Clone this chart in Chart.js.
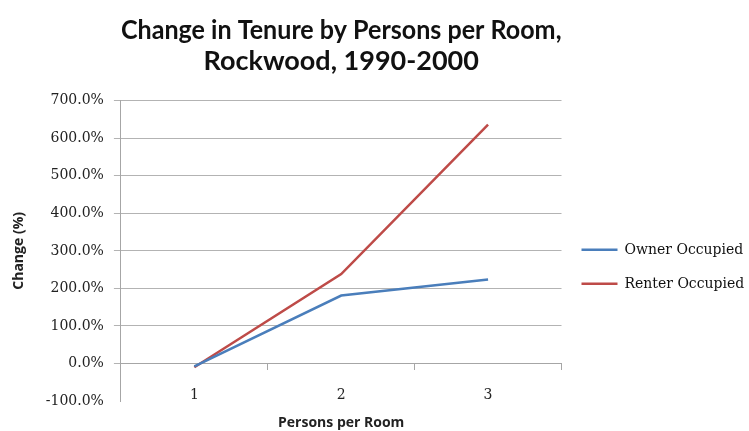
<!DOCTYPE html>
<html>
<head>
 <title>Change in Tenure by Persons per Room</title>
 <script src="https://cdn.jsdelivr.net/npm/chart.js"></script>
 <style>
  body { margin: 0; background: #fff; }
  #chart-container { width: 749px; height: 431px; }
 </style>
</head>
<body>
 <div id="chart-container">
  <canvas id="tenureChart"></canvas>
 </div>

 <script>
  // Data
  const personsPerRoom = ['1', '2', '3'];
  const ownerOccupied = [-8, 181, 224];
  const renterOccupied = [-10, 238, 636];
  const yTicks = [-100, 0, 100, 200, 300, 400, 500, 600, 700];

  const serif = '"DejaVu Serif", "Liberation Serif", serif';
  const sans = '"Open Sans", Lato, sans-serif';

  const ctx = document.getElementById('tenureChart').getContext('2d');
  const chart = new Chart(ctx, {
   type: 'line',
   data: {
    labels: personsPerRoom,
    datasets: [{
     label: 'Owner Occupied',
     data: ownerOccupied,
     borderColor: '#4a7ebb',
     borderWidth: 2.5,
     pointRadius: 0,
     tension: 0,
     fill: false
    }, {
     label: 'Renter Occupied',
     data: renterOccupied,
     borderColor: '#be4b48',
     borderWidth: 2.5,
     pointRadius: 0,
     tension: 0,
     fill: false
    }]
   },
   options: {
    responsive: true,
    maintainAspectRatio: false,
    animation: false,
    layout: { padding: { left: 11, right: 4, top: 0, bottom: 30 } },
    plugins: {
     title: {
      display: true,
      fullSize: false,
      text: ['Change in Tenure by Persons per Room,', 'Rockwood, 1990-2000'],
      color: '#111',
      font: { family: 'Lato, sans-serif', size: 27, weight: 'bold', lineHeight: 1.18 },
      padding: { top: 14, bottom: 23 }
     },
     legend: {
      position: 'right',
      fullSize: false,
      title: { display: true, text: ' ', font: { size: 10 }, padding: 10 },
      labels: {
       usePointStyle: true,
       pointStyle: 'line',
       pointStyleWidth: 36,
       padding: 20,
       color: '#111',
       font: { family: serif, size: 14 }
      }
     },
     tooltip: { enabled: false }
    },
    scales: {
     x: {
      position: { y: 0 },
      offset: true,
      grid: {
       offset: true,
       drawOnChartArea: false,
       drawTicks: true,
       tickLength: 6,
       color: '#a6a6a6'
      },
      border: { color: '#a6a6a6', width: 1 },
      ticks: {
       padding: 17,
       color: '#222',
       font: { family: serif, size: 14 }
      },
      title: {
       display: true,
       text: 'Persons per Room',
       color: '#222',
       font: { family: sans, size: 14, weight: 'bold' },
       padding: { top: -6, bottom: 0 }
      }
     },
     y: {
      min: -100,
      max: 700,
      afterBuildTicks: function(scale) {
       scale.ticks = yTicks.map(v => ({ value: v }));
      },
      grid: {
       color: c => (c.tick && c.tick.value === -100) ? 'rgba(0,0,0,0)' : '#b3b3b3',
       tickLength: 7,
       lineWidth: 1
      },
      border: { color: '#a6a6a6', width: 1 },
      ticks: {
       padding: 10,
       color: '#222',
       font: { family: serif, size: 14 },
       callback: v => v.toFixed(1) + '%'
      },
      title: {
       display: true,
       text: 'Change (%)',
       color: '#222',
       font: { family: sans, size: 14, weight: 'bold' },
       padding: { top: 0, bottom: 8 }
      }
     }
    }
   }
  });
 </script>
</body>
</html>
